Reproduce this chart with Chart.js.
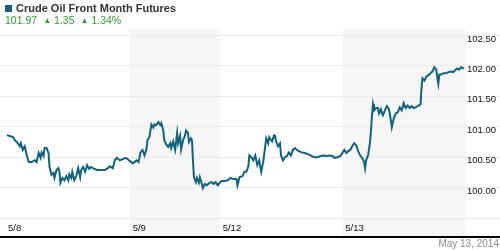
<!DOCTYPE html>
<html>
<head>
<meta charset="utf-8">
<script src="https://cdn.jsdelivr.net/npm/chart.js@4.4.1/dist/chart.umd.min.js"></script>
<style>
body { margin: 0; background: #fff; font-family: "Liberation Sans", Arial, sans-serif; }
#wrap { position: relative; width: 500px; height: 250px; overflow: hidden; }
#myChart { position: absolute; left: 0; top: 0; }
.sq { position: absolute; left: 5px; top: 5px; width: 7px; height: 7px; background: #12627e; }
#title { position: absolute; left: 16px; top: 2px; font-size: 11px; font-weight: bold; color: #333; white-space: nowrap; }
#quote { position: absolute; left: 5px; top: 14px; font-size: 10.5px; color: #2f9e2f; white-space: nowrap; }
#quote .tri { font-size: 8px; margin: 0 3px 0 6px; position: relative; top: -1px; }
#date { position: absolute; right: 1px; top: 238px; font-size: 10px; color: #8a8a8a; }
</style>
</head>
<body>
<div id="wrap">
  <canvas id="myChart" width="500" height="250"></canvas>
  <div class="sq"></div>
  <div id="title">Crude Oil Front Month Futures</div>
  <div id="quote">101.97<span class="tri">▲</span>1.35<span class="tri">▲</span>1.34%</div>
  <div id="date">May 13, 2014</div>
</div>
<script>
// trading days on the x axis (start of each session, in time slots)
const dayLabels = ['5/8', '5/9', '5/12', '5/13'];
const dayStarts = [0, 126, 217, 341];
const endSlot = 466;
const yTicks = [100, 100.5, 101, 101.5, 102, 102.5];

// time slot of each quote
const times = [
    2, 5, 8, 10, 13, 15, 16, 18, 20, 22, 24, 27, 30, 32, 34, 36, 37, 39, 40, 42, 44, 45, 47, 49, 50, 52, 54, 55, 56, 58,
    60, 62, 64, 65, 67, 68, 70, 72, 74, 76, 77, 79, 81, 83, 85, 87, 90, 93, 97, 101, 104, 106, 109, 111, 113, 116, 119, 122, 124,
    126, 129, 131, 133, 135, 137, 139, 141, 143, 144, 146, 147, 148, 150, 151, 153, 155, 157, 158, 160, 161, 163, 165, 167, 168,
    170, 172, 174, 175, 177, 178, 180, 182, 183, 185, 186, 188, 189, 190, 191, 193, 194, 196, 197, 199, 200, 202, 204, 207, 209, 211, 213, 215,
    217, 219, 222, 225, 228, 231, 234, 235, 237, 240, 242, 244, 246, 247, 249, 251, 253, 255, 257, 259, 261, 263, 264, 266, 267,
    269, 270, 272, 273, 274, 276, 278, 279, 281, 283, 285, 287, 289, 291, 293, 295, 297, 300, 303, 306, 310, 313, 316, 319, 322,
    325, 328, 331, 333, 336, 339,
    341, 343, 345, 347, 349, 351, 353, 355, 357, 359, 361, 363, 364, 365, 367, 369, 370, 371, 372, 373, 375, 377, 378, 380, 381,
    382, 384, 386, 388, 389, 391, 393, 395, 397, 399, 401, 403, 405, 407, 409, 411, 413, 415, 418, 420, 421, 422, 424, 426, 428,
    430, 432, 434, 436, 437, 438, 439, 441, 443, 446, 448, 451, 453, 455, 457, 459, 461, 464
];

const prices = [
    // 5/8
    100.85, 100.84, 100.82, 100.77, 100.72, 100.67, 100.72, 100.61, 100.67, 100.52, 100.41, 100.41, 100.44, 100.41, 100.56,
    100.48, 100.57, 100.51, 100.64, 100.64, 100.56, 100.33, 100.20, 100.23, 100.15, 100.28, 100.31, 100.25, 100.07, 100.15,
    100.11, 100.18, 100.11, 100.21, 100.15, 100.25, 100.11, 100.18, 100.31, 100.16, 100.28, 100.33, 100.25, 100.36, 100.30,
    100.33, 100.30, 100.28, 100.28, 100.28, 100.31, 100.34, 100.31, 100.44, 100.48, 100.44, 100.46, 100.48, 100.46,
    // 5/9
    100.43, 100.39, 100.41, 100.44, 100.41, 100.57, 100.61, 100.52, 100.62, 100.77, 100.82, 100.93, 101.03, 100.98, 101.03,
    101.02, 101.07, 101.02, 101.05, 100.93, 100.77, 100.70, 100.66, 100.72, 100.64, 100.75, 100.61, 100.89, 100.72, 100.84,
    100.62, 100.77, 100.85, 100.93, 100.89, 100.74, 100.80, 100.77, 100.44, 100.16, 100.08, 100.15, 100.07, 100.16, 100.05,
    99.98, 100.05, 100.03, 100.07, 100.08, 100.05, 100.08, 100.03,
    // 5/12
    100.07, 100.10, 100.10, 100.11, 100.15, 100.13, 100.13, 100.03, 100.16, 100.18, 100.25, 100.25, 100.34, 100.52, 100.49,
    100.44, 100.52, 100.36, 100.44, 100.25, 100.41, 100.66, 100.80, 100.72, 100.82, 100.77, 100.75, 100.85, 100.84, 100.75,
    100.67, 100.72, 100.52, 100.44, 100.49, 100.51, 100.57, 100.52, 100.61, 100.64, 100.61, 100.59, 100.57, 100.56, 100.54,
    100.51, 100.49, 100.49, 100.51, 100.52, 100.51, 100.52, 100.51, 100.48, 100.49, 100.51,
    // 5/13
    100.56, 100.61, 100.56, 100.59, 100.61, 100.67, 100.72, 100.69, 100.59, 100.52, 100.48, 100.41, 100.31, 100.44, 100.52,
    100.74, 100.93, 101.18, 101.36, 101.26, 101.30, 101.30, 101.21, 101.28, 101.21, 101.18, 101.26, 101.33, 101.28, 101.21,
    100.98, 101.13, 101.21, 101.23, 101.31, 101.26, 101.38, 101.30, 101.34, 101.30, 101.33, 101.30, 101.31, 101.34, 101.36,
    101.62, 101.79, 101.75, 101.82, 101.84, 101.87, 101.90, 101.97, 101.93, 101.80, 101.70, 101.85, 101.85, 101.87, 101.87,
    101.89, 101.90, 101.89, 101.92, 101.95, 101.93, 101.97, 101.95
];

const points = times.map((t, i) => ({ x: t, y: prices[i] }));

// alternating day shading, full-width grid lines, bottom rules
const backdrop = {
    id: 'backdrop',
    beforeDraw(chart) {
        const { ctx, chartArea } = chart;
        const xs = chart.scales.x, ys = chart.scales.y;
        ctx.save();
        ctx.fillStyle = '#f6f6f6';
        for (let i = 1; i < dayStarts.length; i += 2) {
            const x0 = xs.getPixelForValue(dayStarts[i]);
            const x1 = i + 1 < dayStarts.length ? xs.getPixelForValue(dayStarts[i + 1]) : chartArea.right;
            ctx.fillRect(x0, chartArea.top, x1 - x0, 236 - chartArea.top);
        }
        ctx.fillStyle = '#ebebeb';
        yTicks.forEach(v => {
            const y = Math.round(ys.getPixelForValue(v));
            ctx.fillRect(0, y, 500, 1);
        });
        ctx.fillRect(0, chartArea.bottom, 500, 1);
        ctx.fillStyle = '#000';
        ctx.fillRect(0, 236, 500, 2);
        ctx.restore();
    }
};

const ctx = document.getElementById('myChart').getContext('2d');
const myChart = new Chart(ctx, {
    type: 'line',
    data: {
        datasets: [{
            data: points,
            borderColor: '#12627e',
            borderWidth: 2,
            pointRadius: 0,
            tension: 0,
            fill: false
        }]
    },
    options: {
        responsive: false,
        animation: false,
        events: [],
        layout: { padding: { top: 29, left: 0, right: 0, bottom: 0 } },
        plugins: { legend: { display: false }, tooltip: { enabled: false } },
        scales: {
            x: {
                type: 'linear',
                min: 0,
                max: endSlot,
                grid: { display: false, drawTicks: false },
                border: { display: false },
                afterBuildTicks: s => { s.ticks = dayStarts.map(v => ({ value: v })); },
                afterFit: s => { s.height = 32; },
                ticks: {
                    autoSkip: false,
                    maxRotation: 0,
                    align: 'start',
                    labelOffset: 3,
                    padding: 5,
                    color: '#111',
                    font: { family: 'Liberation Sans', size: 9.5 },
                    callback: v => dayLabels[dayStarts.indexOf(v)]
                }
            },
            y: {
                position: 'right',
                min: 99.49,
                max: 102.6,
                grid: { display: false, drawTicks: false },
                border: { display: false },
                afterBuildTicks: s => { s.ticks = yTicks.map(v => ({ value: v })); },
                afterFit: s => { s.width = 34; },
                ticks: {
                    padding: 1,
                    labelOffset: 4,
                    color: '#111',
                    font: { family: 'Liberation Sans', size: 9.5 },
                    callback: v => v.toFixed(2)
                }
            }
        }
    },
    plugins: [backdrop]
});
</script>
</body>
</html>
